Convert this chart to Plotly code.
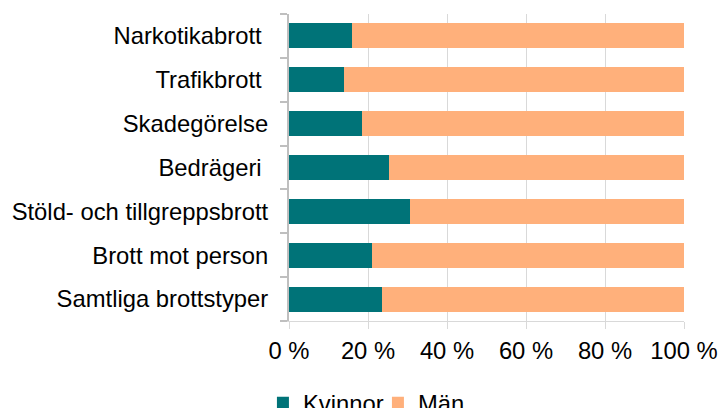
import plotly.graph_objects as go

categories = ["Narkotikabrott\u00a0", "Trafikbrott\u00a0", "Skadegörelse", "Bedrägeri\u00a0",
              "Stöld- och tillgreppsbrott", "Brott mot person", "Samtliga brottstyper"]
kvinnor = [16.0, 13.8, 18.5, 25.4, 30.7, 21.0, 23.5]
man = [100 - v for v in kvinnor]
tick_vals = [0, 20, 40, 60, 80, 100]
tick_text = ["0 %", "20 %", "40 %", "60 %", "80 %", "100 %"]

FS = 23.8
font = dict(family="Liberation Sans, Arial, sans-serif", size=FS, color="#000000")

fig = go.Figure()
fig.add_trace(go.Bar(y=categories, x=kvinnor, name="Kvinnor", orientation="h",
                     marker=dict(color="#007378", line=dict(width=0))))
fig.add_trace(go.Bar(y=categories, x=man, name="Män", orientation="h",
                     marker=dict(color="#FFB07B", line=dict(width=0))))

fig.update_layout(
    width=719, height=408,
    barmode="stack", bargap=0.43,
    plot_bgcolor="white", paper_bgcolor="white",
    margin=dict(l=289, r=35, t=14, b=87, autoexpand=False),
    font=font,
    legend=dict(orientation="h", x=-0.066, xanchor="left", y=-0.195, yanchor="top",
                font=dict(size=FS), itemwidth=30, traceorder="normal",
                tracegroupgap=0, entrywidth=70, entrywidthmode="pixels"),
    showlegend=True,
)
fig.update_xaxes(range=[0, 100], tickvals=tick_vals, ticktext=tick_text,
                 showgrid=True, gridcolor="#d9d9d9", gridwidth=1,
                 showline=True, linecolor="#d9d9d9", linewidth=1,
                 ticks="outside", ticklen=7, tickcolor="#d9d9d9",
                 zeroline=False, tickfont=dict(size=FS), ticklabelstandoff=1)
fig.update_yaxes(categoryorder="array", categoryarray=categories[::-1],
                 showline=True, linecolor="#bfbfbf", linewidth=2,
                 ticks="outside", tickson="boundaries", ticklen=7, tickcolor="#bfbfbf",
                 tickwidth=2, showgrid=False, tickfont=dict(size=FS),
                 ticklabelstandoff=14)

fig.write_html("out.html", config={"displayModeBar": False},
               post_script="document.body.style.margin='0px';document.body.style.overflow='hidden';")
